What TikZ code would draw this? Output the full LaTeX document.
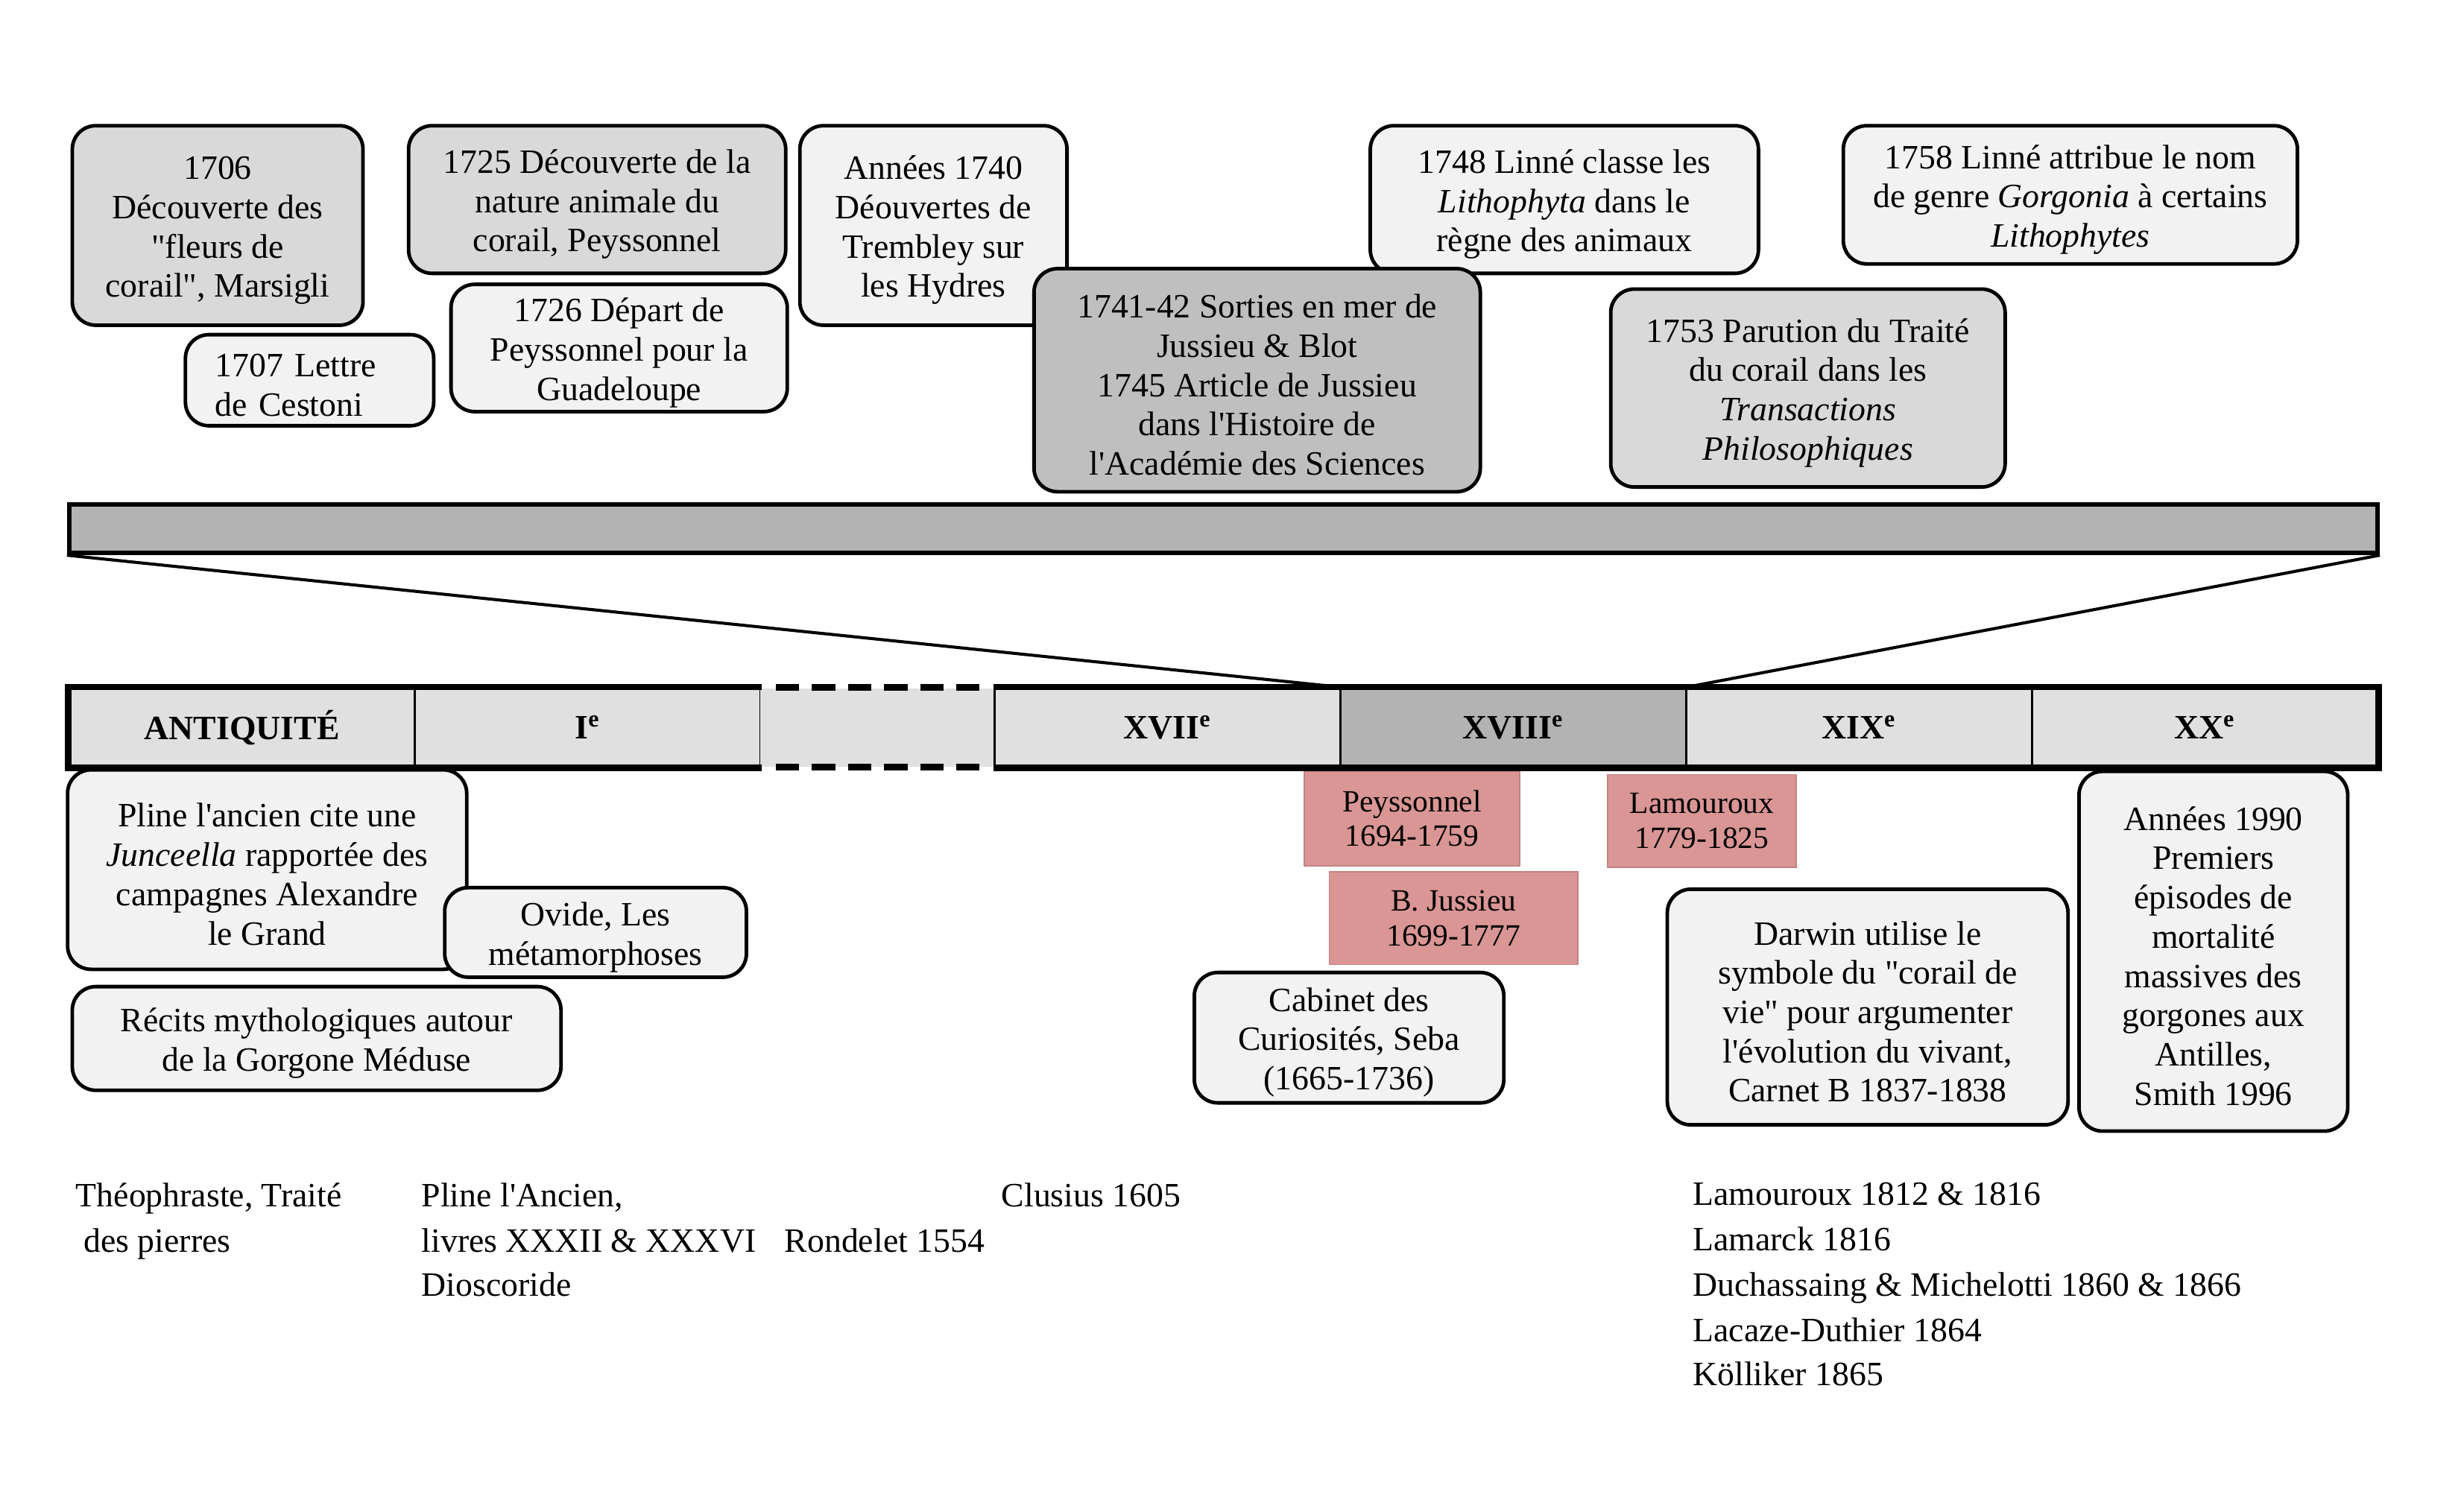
\documentclass[tikz,border=0pt]{standalone}
\usepackage{fontspec}
\setmainfont{Liberation Serif}[Ligatures=TeXOff]
\definecolor{lightf}{HTML}{F2F2F2}
\definecolor{midf}{HTML}{D9D9D9}
\definecolor{darkf}{HTML}{BFBFBF}
\definecolor{bandf}{HTML}{B3B3B3}
\definecolor{segf}{HTML}{E0E0E0}
\definecolor{pinkf}{HTML}{D99694}
\newcommand\boxfont{\fontsize{12.35pt}{14.23pt}\selectfont}
\newcommand\pinkfont{\fontsize{11.2pt}{12.5pt}\selectfont}
\newcommand\tbox[7]{\node[#2, minimum width={((#5)-(#3))*0.02cm}, minimum height={((#6)-(#4))*0.02cm}] (#1) at ({((#3)+(#5))/2},{-((#4)+(#6))/2}) {#7};}
\newcommand\ebox[7]{\tbox{#1}{#2}{#3}{#4}{#5}{#6}{\rule{0pt}{12pt}#7}}
\tikzset{
  evbox/.style={draw=black, line width=1.3pt, rounded corners=0.3cm, align=center, inner sep=0pt, font=\boxfont},
  light/.style={evbox, fill=lightf},
  mid/.style={evbox, fill=midf},
  dark/.style={evbox, fill=darkf},
  pinkbox/.style={fill=pinkf, draw=pinkf!88!black, line width=0.4pt, align=center, inner sep=0pt, font=\pinkfont},
  seg/.style={draw=black, line width=0.8pt, fill=segf, inner sep=0pt, font=\boxfont\bfseries},
  blankseg/.style={fill=segf, inner sep=0pt},
  bandbox/.style={draw=black, line width=1.6pt, fill=bandf, inner sep=0pt},
  frame/.style={line width=2.4pt},
  dashframe/.style={line width=2.4pt, dash pattern=on 0.3cm off 0.16cm},
  link/.style={line width=1.1pt},
  reftext/.style={anchor=base west, inner sep=0pt, font=\boxfont}
}
\begin{document}
\begin{tikzpicture}[x=0.02cm, y=0.02cm]
\useasboundingbox[fill=white] (0,0) rectangle (1568,-947);

% top events
\ebox{e1706}{mid}{46}{80}{231}{207}{1706\\Découverte des\\"fleurs de\\corail", Marsigli}
\ebox{e1707}{light, text width=2.4cm, align=left}{118}{213}{276}{271}{1707 Lettre\\de Cestoni}
\ebox{e1725}{mid}{260}{80}{500}{174}{1725 Découverte de la\\nature animale du\\corail, Peyssonnel}
\ebox{e1726}{light}{287}{181}{501}{262}{1726 Départ de\\Peyssonnel pour la\\Guadeloupe}
\ebox{e1740}{light}{509}{80}{679}{207}{Années 1740\\Déouvertes de\\Trembley sur\\les Hydres}
\ebox{e1748}{light}{872}{80}{1119}{174}{1748 Linné classe les\\\textit{Lithophyta} dans le\\règne des animaux}
\ebox{e1758}{light}{1173}{80}{1462}{168}{1758 Linné attribue le nom\\de genre \textit{Gorgonia} à certains\\\textit{Lithophytes}}
\ebox{e1741}{dark}{658}{171}{942}{313}{1741-42 Sorties en mer de\\Jussieu \& Blot\\1745 Article de Jussieu\\dans l'Histoire de\\l'Académie des Sciences}
\ebox{e1753}{mid}{1025}{184}{1276}{310}{1753 Parution du Traité\\du corail dans les\\\textit{Transactions}\\\textit{Philosophiques}}

% zoom band
\tbox{band}{bandbox}{44}{321}{1513}{352}{}

% timeline
\tbox{s1}{seg}{44}{438}{264}{488}{ANTIQUITÉ}
\tbox{s2}{seg}{264}{438}{484}{488}{I\textsuperscript{e}}
\tbox{s3}{blankseg}{484}{438}{633}{488}{}
\tbox{s4}{seg}{633}{438}{853}{488}{XVII\textsuperscript{e}}
\tbox{s5}{seg, fill=bandf}{853}{438}{1073}{488}{XVIII\textsuperscript{e}}
\tbox{s6}{seg}{1073}{438}{1293}{488}{XIX\textsuperscript{e}}
\tbox{s7}{seg}{1293}{438}{1513}{488}{XX\textsuperscript{e}}
\draw[frame] (s2.north east) -- (s1.north west) -- (s1.south west) -- (s2.south east);
\draw[frame] (s4.north west) -- (s7.north east) -- (s7.south east) -- (s4.south west);
\draw[dashframe] ([xshift=0.2cm]s3.north west) -- ([xshift=-0.2cm]s3.north east);
\draw[dashframe] ([xshift=0.2cm]s3.south west) -- ([xshift=-0.2cm]s3.south east);

\draw[link] (band.south west) -- (s5.north west);
\draw[link] (band.south east) -- (s5.north east);

% events below
\ebox{pline}{light}{43}{490}{297}{617}{Pline l'ancien cite une\\\textit{Junceella} rapportée des\\campagnes Alexandre\\le Grand}
\ebox{ovide}{light}{283}{565}{475}{622}{Ovide, Les\\métamorphoses}
\ebox{recits}{light}{46}{628}{357}{694}{Récits mythologiques autour\\de la Gorgone Méduse}
\tbox{peys}{pinkbox}{830}{491}{967}{551}{Peyssonnel\\1694-1759}
\tbox{juss}{pinkbox}{846}{555}{1004}{614}{B. Jussieu\\1699-1777}
\tbox{lamx}{pinkbox}{1023}{493}{1143}{552}{Lamouroux\\1779-1825}
\ebox{seba}{light}{760}{619}{957}{702}{Cabinet des\\Curiosités, Seba\\(1665-1736)}
\ebox{darwin}{light}{1061}{566}{1316}{716}{Darwin utilise le\\symbole du "corail de\\vie" pour argumenter\\l'évolution du vivant,\\Carnet B 1837-1838}
\ebox{smith}{light}{1323}{491}{1494}{720}{Années 1990\\Premiers\\épisodes de\\mortalité\\massives des\\gorgones aux\\Antilles,\\Smith 1996}

% references
\node[reftext] (t1a) at (48,-768) {Théophraste, Traité};
\node[reftext] (t1b) at (53,-797) {des pierres};
\node[reftext] (t2a) at (268,-768) {Pline l'Ancien,};
\node[reftext] (t2b) at (268,-797) {livres XXXII \& XXXVI};
\node[reftext] (t2c) at (268,-825) {Dioscoride};
\node[reftext] (t3) at (499,-797) {Rondelet 1554};
\node[reftext] (t4) at (637,-768) {Clusius 1605};
\node[reftext] (t5a) at (1077,-767) {Lamouroux 1812 \& 1816};
\node[reftext] (t5b) at (1077,-796) {Lamarck 1816};
\node[reftext] (t5c) at (1077,-825) {Duchassaing \& Michelotti 1860 \& 1866};
\node[reftext] (t5d) at (1077,-854) {Lacaze-Duthier 1864};
\node[reftext] (t5e) at (1077,-882) {Kölliker 1865};
\end{tikzpicture}
\end{document}
